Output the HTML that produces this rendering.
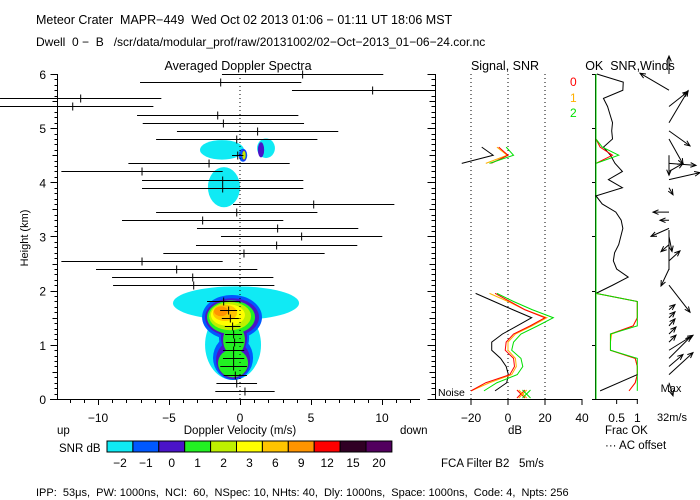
<!DOCTYPE html>
<html><head><meta charset="utf-8"><style>
html,body{margin:0;padding:0;background:#fff;}
svg{display:block;font-family:"Liberation Sans",sans-serif;}
text{fill:#000;white-space:pre;}
</style></head><body>
<svg id="c" width="700" height="500" viewBox="0 0 700 500" xml:space="preserve">
<text x="36" y="24" font-size="12.5">Meteor Crater  MAPR−449  Wed Oct 02 2013 01:06 − 01:11 UT 18:06 MST</text>
<text x="36" y="46" font-size="12">Dwell  0 −  B   /scr/data/modular_prof/raw/20131002/02−Oct−2013_01−06−24.cor.nc</text>
<text x="238" y="70" font-size="12.5" text-anchor="middle">Averaged Doppler Spectra</text>
<text x="505" y="70" font-size="12.5" text-anchor="middle">Signal, SNR</text>
<text x="630" y="70" font-size="12.5" text-anchor="middle">OK  SNR,Winds</text>
<text x="570" y="86" font-size="12" style="fill:#ff0000">0</text>
<text x="570" y="102" font-size="12" style="fill:#ffb000">1</text>
<text x="570" y="117" font-size="12" style="fill:#00e000">2</text>
<text x="28" y="238" font-size="11" text-anchor="middle" transform="rotate(-90 28 238)">Height (km)</text>
<text x="240" y="434" font-size="11.5" text-anchor="middle">Doppler Velocity (m/s)</text>
<text x="57" y="434" font-size="11.5">up</text>
<text x="400" y="434" font-size="11.5">down</text>
<text x="515" y="434" font-size="11.5" text-anchor="middle">dB</text>
<text x="605" y="434" font-size="11.5">Frac OK</text>
<text x="605" y="449" font-size="11.5">··· AC offset</text>
<text x="671" y="392" font-size="11" text-anchor="middle">Max</text>
<text x="672" y="421" font-size="11" text-anchor="middle">32m/s</text>
<text x="438" y="396" font-size="10.5">Noise</text>
<text x="59" y="452" font-size="11.5">SNR dB</text>
<text x="441" y="467" font-size="11.5">FCA Filter B2   5m/s</text>
<text x="36" y="496" font-size="11">IPP:  53μs,  PW: 1000ns,  NCI:  60,  NSpec: 10, NHts: 40,  Dly: 1000ns,  Space: 1000ns,  Code: 4,  Npts: 256</text>
<g id="g"></g>
</svg>
<script>
// ---- data ----
const heightGates = [1,2,3,4,5,6,7,8,9,10,11,12,14,15,16,17,18,19,20,21,22,23,24,26,27,28,29,30,32,33,34,35,36,37,38,39,40];
const meanVelocity = [0.35,-0.23,-0.33,-0.45,-0.45,-0.45,-0.38,-0.45,-0.52,-0.68,-0.80,-1.15,-3.26,-3.33,-4.46,-6.90,0.28,2.58,4.34,2.65,-2.63,-0.23,5.19,-1.22,-1.22,-6.90,-2.18,-0.16,-0.23,1.24,-1.17,-1.57,-11.78,-11.22,9.34,-1.36,4.41];
const velocityWidth = [2.09,1.43,0.82,0.94,0.75,0.75,0.63,0.6,0.55,0.6,0.6,1.17,5.68,5.68,5.68,5.68,5.68,5.68,5.68,5.68,5.68,5.68,5.68,5.68,5.68,5.68,5.68,0.4,5.68,5.68,5.68,5.68,5.68,5.68,5.68,5.68,5.68];
const xTicks = [-10,-5,0,5,10];
const yTicks = [0,1,2,3,4,5,6];
const snrLevels = ['-2','-1','0','1','2','3','6','9','12','15','20'];
const snrColors = ['#10eaf4','#0058ff','#4a14c8','#22f022','#bef000','#ffff00','#ffc400','#ff9400','#ff0000','#300024','#52005e'];
// spectra contour blobs: velocity, height, radius v, radius h, level index
const blobV = [-0.28,-0.49,-1.27,1.83,-1.13,-0.56,-0.49,-0.42,-0.56,-0.49,-0.42,-0.63,-0.49,-0.42,-0.70,-0.85,-1.06,-1.34,0.21,1.48,0.28,0.28];
const blobH = [1.77,1.00,4.60,4.63,3.91,1.51,0.76,1.13,1.51,0.72,1.13,1.51,0.66,1.09,1.53,1.55,1.59,1.62,4.50,4.60,4.50,4.50];
const blobRV = [4.44,1.97,1.55,0.63,1.13,2.11,1.41,1.06,1.90,1.20,0.92,1.69,1.06,0.77,1.48,1.20,0.85,0.49,0.30,0.22,0.15,0.12];
const blobRH = [0.31,0.65,0.18,0.18,0.37,0.41,0.41,0.37,0.35,0.35,0.33,0.31,0.26,0.28,0.26,0.20,0.15,0.09,0.12,0.14,0.10,0.08];
const blobLevel = [0,0,0,0,0,1,1,1,2,2,2,3,3,3,4,5,6,7,1,2,2,4];
// signal / SNR
const snrGates = [1,2,3,4,5,6,7,8,9,10,11,12,13];
const signalBlack = [-7,-0.7,0.2,-1,-4,-8.8,-8.8,-3,5,12.8,2.5,-7.5,-17.5];
const snrRed = [-20,-12,1,3.5,3,-1.5,-1,3,12,20,9,1,-7];
const snrOrange = [-20,-10,2,4.5,4,0,0,4,13,21,9,0,-10];
const snrGreen = [-13,-6,5,8,7,2,3,7,16,24.5,13,3,-6];
const upperGates = [29,30,31];
const upperBlack = [-25,-8,-14.2];
const upperRed = [-9,0,-5];
const upperOrange = [-12,-0.5,-6];
const upperGreen = [-10,3,-1];
const noiseDb = [7,8,10];
const dbTicks = [-20,0,20,40];
// fraction OK
const fracGates = [13,14,15,16,17,18,19,20,21,22,23,24,25,26,27,28,29,30,31,32,33,34,35,36,37,38,39,40];
const fracBlack = [0,0.40,0.78,0.50,0.42,0.45,0.55,0.60,0.65,0.61,0.48,0.15,0,0.64,0.30,0.64,0.46,0.35,0.18,0.40,0.38,0.40,0.34,0.28,0.18,0.65,0.66,0.02];
const fracLowGates = [1,2,3,4,5,6,7,8,9,10,11,12,13];
const fracGreen = [1,1,1,1,1,0.35,0.35,0.35,1,1,1,1,0];
const fracRed = [0.8,0.95,1,1,0.95,0.35,0.35,0.35,0.9,1,1,1,0];
const fracOrange = [0.8,0.95,1,1,0.95,0.35,0.35,0.38,0.9,1,1,1,0];
const fracUpperGates = [29,30,31,32];
const fracUpperGreen = [0,0.55,0.15,0];
const fracUpperRed = [0,0.40,0.10,0];
const fracTicks = [0.5,1];
// winds (m/s, east, north)
const windGates = [2,3,4,5,6,7,8,9,10,11,14,16,17,19,20,21,22,23,26,27,28,29,30,32,33,34,36,38,40];
const windU = [4,24,14,22,24,7,7,6,6,6,21,-8,11,-8,3,-18,-9,-16,4,31,14,27,0,14,21,19,19,-29,0];
const windV = [-13,22,12,22,15,7,7,7,6,5,-27,-17,10,-7,-15,-8,0,0,-7,7,8,-2,-20,-25,-15,32,15,17,18];

// ---- scales ----
const H0=399, KM=54.17;
const yH = h => H0 - h*KM;
const gateH = k => 0.15*k;
const xV = v => 240 + v*14.2;
const xDb = d => 508 + d*1.85;
const xFr = f => 596 + f*41.3;
const NS='http://www.w3.org/2000/svg';
const G=document.getElementById('g');
function mk(tag, attrs, parent){const e=document.createElementNS(NS,tag);for(const k in attrs)e.setAttribute(k,attrs[k]);(parent||G).appendChild(e);return e;}

const blobGroup = mk('g',{});


const order = blobLevel.map((l,i)=>i).sort((a,b)=>blobLevel[a]-blobLevel[b]);
order.forEach(i=>{
  const e = mk('ellipse',{cx:xV(blobV[i]),cy:yH(blobH[i]),rx:blobRV[i]*14.2,ry:blobRH[i]*KM,fill:snrColors[blobLevel[i]]},blobGroup);
  
  
});

const defs=mk('defs',{});
const cp=mk('clipPath',{id:'p1'},defs); mk('rect',{x:0,y:60,width:433,height:345},cp);

const zl=mk('line',{x1:xV(0),y1:74,x2:xV(0),y2:H0,stroke:'#000','stroke-dasharray':'1 3'});



const eb=mk('g',{'clip-path':'url(#p1)',stroke:'#000','stroke-width':1});


heightGates.forEach((k,i)=>{
  const y=Math.round(yH(gateH(k)))+0.5, c=xV(meanVelocity[i]), w=velocityWidth[i]*14.2;
  const g=mk('g',{},eb);
  
  
  mk('line',{x1:c-w,y1:y,x2:c+w,y2:y},g);
  mk('line',{x1:c,y1:y-4,x2:c,y2:y+4},g);
});

const ax=mk('g',{stroke:'#000','stroke-width':1});


mk('line',{x1:57.5,y1:74,x2:57.5,y2:H0+0.5},ax);
mk('line',{x1:50,y1:H0+0.5,x2:420,y2:H0+0.5},ax);
mk('line',{x1:435.5,y1:74,x2:435.5,y2:H0+0.5},ax);
for(let i=0;i<=60;i++){const y=Math.round(yH(i/10))+0.5;const big=i%10==0, mid=i%5==0;
  mk('line',{x1:57.5-(big?7:mid?5:3),y1:y,x2:57.5,y2:y},ax);
  mk('line',{x1:435.5-(big?8:mid?6:4),y1:y,x2:435.5,y2:y},ax);}
for(let v=-12;v<=12;v++){const x=Math.round(xV(v))+0.5;mk('line',{x1:x,y1:H0,x2:x,y2:H0+(v%5==0?6:4)},ax);}
xTicks.forEach(v=>{const t=mk('text',{x:xV(v),y:422,'font-size':12,'text-anchor':'middle',stroke:'none'});t.textContent=(v<0?'−':'')+Math.abs(v);
  
  });
yTicks.forEach(h=>{const t=mk('text',{x:46,y:yH(h)+5,'font-size':12,'text-anchor':'end',stroke:'none'});t.textContent=h;
  
  });

mk('line',{x1:433,y1:H0+0.5,x2:582,y2:H0+0.5},ax);
[-20,0,20].forEach(d=>{const l=mk('line',{x1:xDb(d),y1:74,x2:xDb(d),y2:H0,stroke:'#000','stroke-dasharray':'1 3'});
  
  });
dbTicks.forEach(d=>{mk('line',{x1:xDb(d),y1:H0,x2:xDb(d),y2:H0+6},ax);
  const t=mk('text',{x:xDb(d),y:422,'font-size':12,'text-anchor':'middle',stroke:'none'});t.textContent=(d<0?'−':'')+Math.abs(d);
  
  });
function poly(gates,vals,xf,color,name){
  const p=mk('polyline',{points:gates.map((k,i)=>xf(vals[i])+','+yH(gateH(k))).join(' '),fill:'none',stroke:color,'stroke-width':1});
  
  
}
poly(snrGates,signalBlack,xDb,'#000','signal-line');
poly(snrGates,snrOrange,xDb,'#ffb000','snr-line-1');
poly(snrGates,snrRed,xDb,'#ff0000','snr-line-0');
poly(snrGates,snrGreen,xDb,'#00e000','snr-line-2');
poly(upperGates,upperBlack,xDb,'#000','signal-line-upper');
poly(upperGates,upperOrange,xDb,'#ffb000','snr-line-1-upper');
poly(upperGates,upperRed,xDb,'#ff0000','snr-line-0-upper');
poly(upperGates,upperGreen,xDb,'#00e000','snr-line-2-upper');
const nc=['#ff0000','#ffb000','#00e000'];
noiseDb.forEach((d,i)=>{const x=xDb(d),y=394;
  const g=mk('g',{stroke:nc[i]});
  
  
  mk('line',{x1:x-4,y1:y-4,x2:x+4,y2:y+4},g);mk('line',{x1:x-4,y1:y+4,x2:x+4,y2:y-4},g);});

mk('line',{x1:595.5,y1:74,x2:595.5,y2:H0+0.5},ax);
mk('line',{x1:595,y1:H0+0.5,x2:638,y2:H0+0.5},ax);
for(let i=0;i<=6;i++){const y=Math.round(yH(i))+0.5;mk('line',{x1:592,y1:y,x2:596,y2:y},ax);}
fracTicks.forEach(f=>{mk('line',{x1:xFr(f),y1:H0,x2:xFr(f),y2:H0+5},ax);
  const t=mk('text',{x:xFr(f),y:422,'font-size':12,'text-anchor':'middle',stroke:'none'});t.textContent=f;
  
  });
const zg=mk('line',{x1:596,y1:74,x2:596,y2:H0,stroke:'#00e000'});


poly(fracGates,fracBlack,xFr,'#000','ok-snr-line');
poly(fracLowGates,fracOrange,xFr,'#ffb000','frac-ok-1');
poly(fracLowGates,fracRed,xFr,'#ff0000','frac-ok-0');
poly(fracLowGates,fracGreen,xFr,'#00e000','frac-ok-2');
poly(fracUpperGates,fracUpperRed,xFr,'#ff0000','frac-ok-0-upper');
poly(fracUpperGates,fracUpperGreen,xFr,'#00e000','frac-ok-2-upper');
mk('polyline',{points:`${xFr(0.1)},${yH(0.15)} ${xFr(1)},${yH(0.45)}`,fill:'none',stroke:'#000'});

const wg=mk('g',{stroke:'#000','stroke-width':1,fill:'none'});


windGates.forEach((k,i)=>{
  const x0=669,y0=yH(gateH(k)),x1=x0+windU[i],y1=y0-windV[i];
  const a=Math.atan2(y1-y0,x1-x0),L=6;
  const g=mk('g',{},wg);
  
  
  mk('line',{x1:x0,y1:y0,x2:x1,y2:y1},g);
  mk('polyline',{points:`${x1-L*Math.cos(a-0.4)},${y1-L*Math.sin(a-0.4)} ${x1},${y1} ${x1-L*Math.cos(a+0.4)},${y1-L*Math.sin(a+0.4)}`},g);
});
mk('line',{x1:669,y1:230,x2:669,y2:270,stroke:'#000'});

const cb=mk('g',{});


const cw=25.9;
snrColors.forEach((c,i)=>{
  const r=mk('rect',{x:107+i*cw,y:441,width:cw,height:11,fill:c,stroke:'#000','stroke-width':1},cb);
  
  
  const t=mk('text',{x:107+i*cw+cw/2,y:467,'font-size':12,'text-anchor':'middle'},cb);
  t.textContent=snrLevels[i].replace('-','−');
  
  
});
</script>
</body></html>
